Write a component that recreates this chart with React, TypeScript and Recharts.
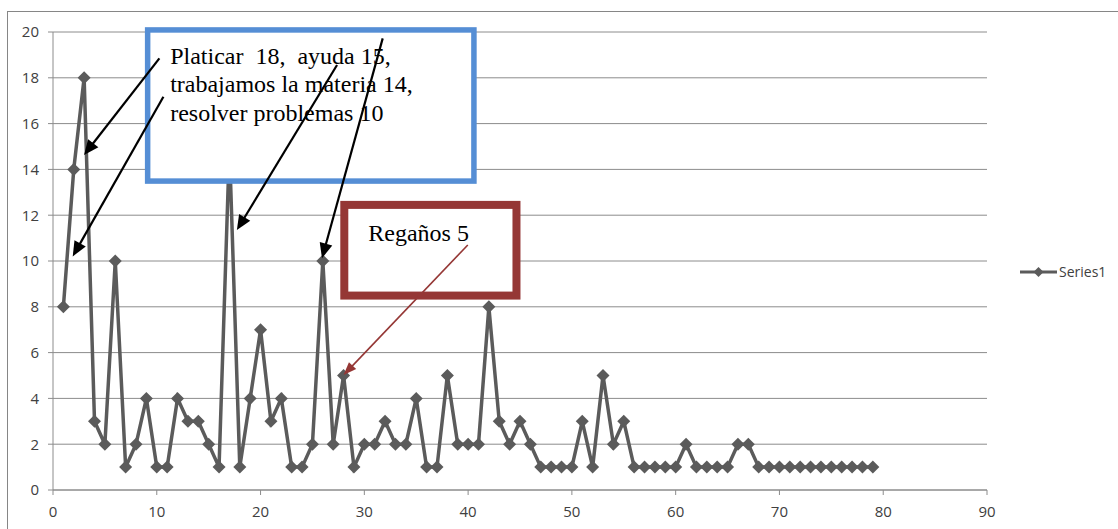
import React from 'react';
import { LineChart, Line, XAxis, YAxis, CartesianGrid, ReferenceArea, ReferenceLine, Legend } from 'recharts';

const seriesName = 'Series1';
const values = [8, 14, 18, 3, 2, 10, 1, 2, 4, 1, 1, 4, 3, 3, 2, 1, 15, 1, 4, 7, 3, 4, 1, 1, 2, 10, 2, 5, 1, 2, 2, 3, 2, 2, 4, 1, 1, 5, 2, 2, 2, 8, 3, 2, 3, 2, 1, 1, 1, 1, 3, 1, 5, 2, 3, 1, 1, 1, 1, 1, 2, 1, 1, 1, 1, 2, 2, 1, 1, 1, 1, 1, 1, 1, 1, 1, 1, 1, 1];
const xTicks = [0, 10, 20, 30, 40, 50, 60, 70, 80, 90];
const yTicks = [0, 2, 4, 6, 8, 10, 12, 14, 16, 18, 20];

const blueLines = ['Platicar  18,  ayuda 15,', 'trabajamos la materia 14,', 'resolver problemas 10'];
const redLines = ['Regaños 5'];

const data = values.map((v, i) => ({ x: i + 1, y: v }));

const SERIES_COLOR = '#5b5b5b';
const GRID = '#8c8c8c';
const FONT = '"Open Sans", "Liberation Sans", sans-serif';
const SERIF = '"Liberation Serif", "Times New Roman", serif';

const Diamond = (props: any) => {
  const { cx, cy } = props;
  if (cx == null || cy == null) return null;
  const r = 6.5;
  return <polygon points={`${cx},${cy - r} ${cx + r},${cy} ${cx},${cy + r} ${cx - r},${cy}`} fill={SERIES_COLOR} stroke="none" />;
};

const makeArrow = (color: string, width: number, headLen: number, headW: number) => (props: any) => {
  const { x1, y1, x2, y2 } = props;
  const dx = x2 - x1;
  const dy = y2 - y1;
  const len = Math.sqrt(dx * dx + dy * dy) || 1;
  const ux = dx / len;
  const uy = dy / len;
  const bx = x2 - ux * headLen;
  const by = y2 - uy * headLen;
  const px = -uy * (headW / 2);
  const py = ux * (headW / 2);
  return (
    <g>
      <line x1={x1} y1={y1} x2={bx + ux * 2} y2={by + uy * 2} stroke={color} strokeWidth={width} />
      <polygon points={`${x2},${y2} ${bx + px},${by + py} ${bx - px},${by - py}`} fill={color} />
    </g>
  );
};

const makeBox = (color: string, sw: number, lines: string[], tx: number, ty: number, lh: number) => (props: any) => {
  const { x, y, width, height } = props;
  return (
    <g>
      <rect x={x} y={y} width={width} height={height} fill="#ffffff" stroke={color} strokeWidth={sw} />
      {lines.map((t, i) => (
        <text key={i} x={x + tx} y={y + ty + i * lh} fontFamily={SERIF} fontSize={24} fill="#000" style={{ whiteSpace: 'pre' }}>
          {t}
        </text>
      ))}
    </g>
  );
};

const blackArrow = makeArrow('#000000', 2.2, 15, 13);
const redArrow = makeArrow('#953735', 1.6, 13, 10);

const LegendContent = () => (
  <svg width={100} height={20}>
    <line x1={2} y1={10} x2={39} y2={10} stroke={SERIES_COLOR} strokeWidth={3} />
    <polygon points="20.5,5 25.5,10 20.5,15 15.5,10" fill={SERIES_COLOR} />
    <text x={41} y={15} fontFamily={FONT} fontSize={14} fill="#404040">{seriesName}</text>
  </svg>
);

export default function App() {
  return (
    <div style={{ position: 'absolute', left: 0, top: 0, width: 1118, height: 529, overflow: 'hidden', background: '#fff' }}>
      <div style={{ position: 'absolute', left: 7, top: 11, width: 1130, height: 540, border: '1px solid #868686', boxSizing: 'border-box' }} />
      <div style={{ position: 'absolute', left: 0, top: 0 }}>
        <LineChart width={1118} height={529} data={data} margin={{ top: 32, right: 31, bottom: 9, left: 8 }}>
          <CartesianGrid horizontal vertical={false} stroke={GRID} strokeWidth={1} />
          <XAxis
            type="number"
            dataKey="x"
            domain={[0, 90]}
            ticks={xTicks}
            interval={0}
            height={30}
            stroke={GRID}
            tickSize={5}
            tickMargin={11}
            tick={{ fill: '#404040', fontSize: 15, fontFamily: FONT }}
            allowDataOverflow
          />
          <YAxis
            type="number"
            domain={[0, 20]}
            ticks={yTicks}
            interval={0}
            width={45}
            stroke={GRID}
            tickSize={5}
            tickMargin={9}
            tick={{ fill: '#404040', fontSize: 15, fontFamily: FONT }}
            allowDataOverflow
          />
          <Legend
            layout="horizontal"
            verticalAlign="middle"
            align="right"
            content={LegendContent}
            wrapperStyle={{ position: 'absolute', left: 1018, top: 262, width: 100, height: 20 }}
          />
          <Line
            type="linear"
            dataKey="y"
            name={seriesName}
            stroke={SERIES_COLOR}
            strokeWidth={3.5}
            dot={<Diamond />}
            activeDot={false}
            isAnimationActive={false}
          />
          <ReferenceArea x1={9.12} x2={40.56} y1={13.49} y2={20.09} ifOverflow="visible" shape={makeBox('#558ed5', 5.5, blueLines, 22.5, 34, 28.5)} zIndex={2500} />
          <ReferenceArea x1={28.07} x2={44.66} y1={8.49} y2={12.45} ifOverflow="visible" shape={makeBox('#953735', 8, redLines, 24, 36, 27)} zIndex={2500} />
          <ReferenceLine segment={[{ x: 10.25, y: 18.85 }, { x: 2.99, y: 14.63 }]} ifOverflow="visible" shape={blackArrow} zIndex={2600} />
          <ReferenceLine segment={[{ x: 10.64, y: 17.17 }, { x: 1.9, y: 10.2 }]} ifOverflow="visible" shape={blackArrow} zIndex={2600} />
          <ReferenceLine segment={[{ x: 27.37, y: 18.56 }, { x: 17.72, y: 11.35 }]} ifOverflow="visible" shape={blackArrow} zIndex={2600} />
          <ReferenceLine segment={[{ x: 31.77, y: 19.72 }, { x: 25.92, y: 10.12 }]} ifOverflow="visible" shape={blackArrow} zIndex={2600} />
          <ReferenceLine segment={[{ x: 39.97, y: 10.7 }, { x: 28.0, y: 5.02 }]} ifOverflow="visible" shape={redArrow} zIndex={2600} />
        </LineChart>
      </div>
    </div>
  );
}
